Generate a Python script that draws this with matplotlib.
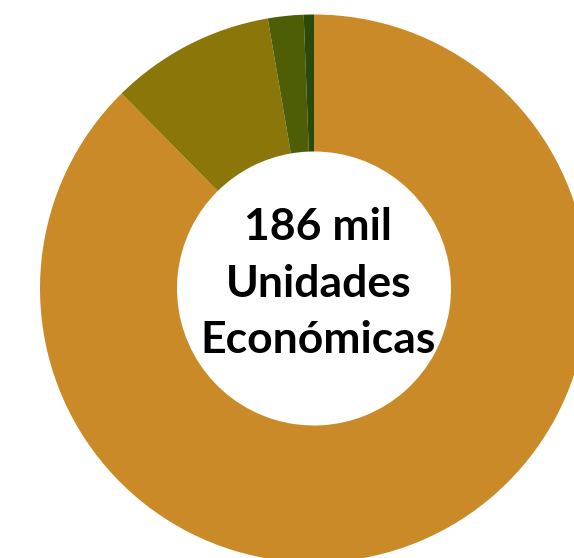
import matplotlib
matplotlib.use("Agg")
from matplotlib import pyplot as plt

# participacion de unidades economicas por tamano (porcentaje)
shares = [87.6, 9.7, 2.1, 0.6]
colors = ["#C98A27", "#8B7709", "#4E5E07", "#2A4A0C"]
center_text = "186 mil\nUnidades\nEconómicas"

fig = plt.figure(figsize=(5.74, 5.58), dpi=100)
ax = fig.add_axes([0, 0, 1, 1])

ax.pie(shares, colors=colors, startangle=90, counterclock=False,
       radius=1.0, wedgeprops=dict(width=0.5, linewidth=0))

ax.text(0.016, 0.018, center_text, ha="center", va="center",
        fontsize=32, fontweight="bold", family=["Lato", "DejaVu Sans"],
        linespacing=1.5, color="black")

# el grafico original esta recortado por la derecha y por abajo
ax.set_xlim(-314 / 274, (574 - 314) / 274)
ax.set_ylim(-(558 - 288.5) / 274, 288.5 / 274)
ax.set_aspect("auto")
ax.axis("off")

fig.savefig("out.png", dpi=100)
